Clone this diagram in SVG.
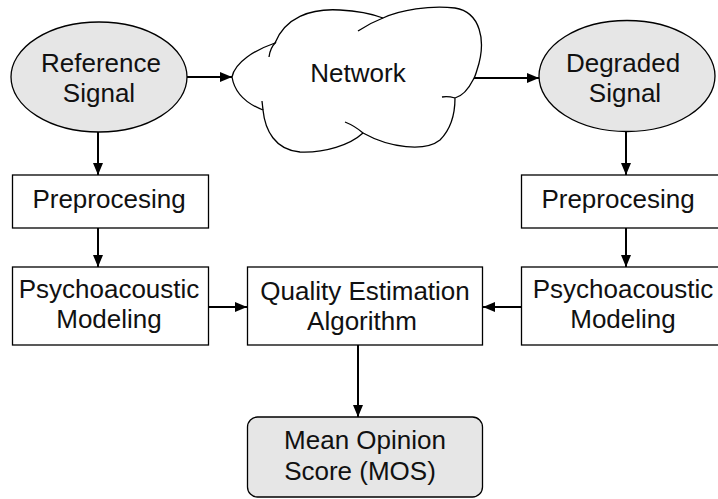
<svg xmlns="http://www.w3.org/2000/svg" width="718" height="499" viewBox="0 0 718 499">
  <defs>
    <marker id="arrow" viewBox="0 0 12 10" refX="12" refY="5" markerWidth="12" markerHeight="10" markerUnits="userSpaceOnUse" orient="auto">
      <path d="M0,0 L12,5 L0,10 Z" fill="#000"/>
    </marker>
  </defs>
  <style>
    .node { stroke: #000; stroke-width: 1.3; }
    .gray { fill: #e6e6e6; }
    .white { fill: #fff; }
    .label { font-family: "Liberation Sans", Arial, sans-serif; font-size: 26px; fill: #111; text-anchor: middle; }
    .edge { stroke: #000; stroke-width: 2; fill: none; marker-end: url(#arrow); }
    .hook { stroke: #000; stroke-width: 1.3; fill: none; }
  </style>
  <rect width="718" height="499" fill="#fff"/>

  <g id="connectors">
    <line class="edge" x1="187" y1="77" x2="232" y2="77"/>
    <line class="edge" x1="474" y1="78" x2="539" y2="78"/>
    <line class="edge" x1="98" y1="132" x2="98" y2="175"/>
    <line class="edge" x1="626" y1="132" x2="626" y2="175"/>
    <line class="edge" x1="98" y1="228" x2="98" y2="267"/>
    <line class="edge" x1="626" y1="228" x2="626" y2="267"/>
    <line class="edge" x1="208" y1="307" x2="247" y2="307"/>
    <line class="edge" x1="522" y1="307" x2="483" y2="307"/>
    <line class="edge" x1="358" y1="345" x2="358" y2="417"/>
  </g>

  <g id="reference-signal">
    <ellipse class="node gray" cx="99" cy="77" rx="88" ry="55"/>
    <text class="label" x="101" y="72">Reference</text>
    <text class="label" x="99" y="102">Signal</text>
  </g>

  <g id="network">
    <path class="node white" d="M232,77 C235,62 255,50 275,43 C285,18 310,8 340,10 C360,11 375,15 383,18 C400,10 430,5 455,8 C480,12 487,40 477,70 Q475,77 473,80 C468,90 462,96 455,98 C455,115 450,130 440,140 C425,152 390,148 363,133 C350,145 325,153 300,152 C275,150 265,130 263,110 C250,105 235,95 232,77 Z"/>
    <path class="hook" d="M358,31 Q370,23 383,18"/>
    <path class="hook" d="M269,57 Q270,48 276,42"/>
    <path class="hook" d="M442,97 Q448,96 455,98"/>
    <path class="hook" d="M345,122 Q355,126 363,133"/>
    <path class="hook" d="M262,101 L263,110"/>
    <text class="label" x="358" y="82">Network</text>
  </g>

  <g id="degraded-signal">
    <ellipse class="node gray" cx="627" cy="76" rx="88" ry="55.5"/>
    <text class="label" x="623" y="72">Degraded</text>
    <text class="label" x="625" y="102">Signal</text>
  </g>

  <g id="preprocessing-ref">
    <rect class="node white" x="12.5" y="175" width="196" height="53"/>
    <text class="label" x="109" y="208">Preprocesing</text>
  </g>

  <g id="preprocessing-deg">
    <rect class="node white" x="521.5" y="175" width="210" height="53"/>
    <text class="label" x="618" y="208">Preprocesing</text>
  </g>

  <g id="psychoacoustic-ref">
    <rect class="node white" x="12.5" y="267" width="196" height="78"/>
    <text class="label" x="109" y="298">Psychoacoustic</text>
    <text class="label" x="109" y="328">Modeling</text>
  </g>

  <g id="psychoacoustic-deg">
    <rect class="node white" x="521.5" y="267" width="210" height="78"/>
    <text class="label" x="623" y="298">Psychoacoustic</text>
    <text class="label" x="623" y="328">Modeling</text>
  </g>

  <g id="quality-estimation">
    <rect class="node white" x="247.5" y="267" width="235" height="78"/>
    <text class="label" x="365" y="300">Quality Estimation</text>
    <text class="label" x="362" y="330">Algorithm</text>
  </g>

  <g id="mos">
    <rect class="node gray" x="247.5" y="417" width="235" height="80" rx="10" ry="10"/>
    <text class="label" x="365" y="449">Mean Opinion</text>
    <text class="label" x="360" y="480">Score (MOS)</text>
  </g>
</svg>
